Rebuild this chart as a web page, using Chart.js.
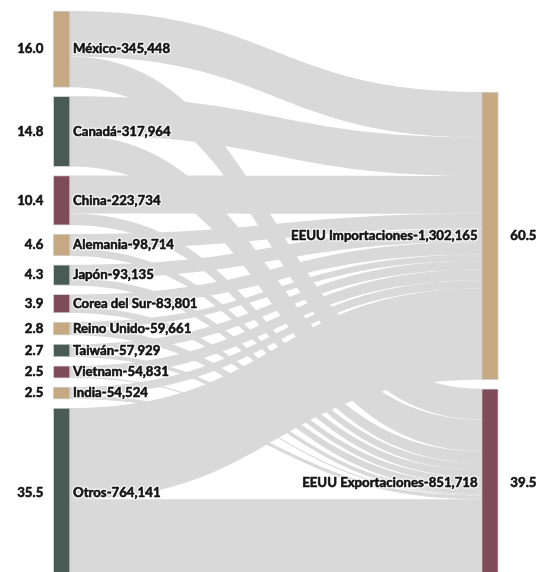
<!DOCTYPE html>
<html>
<head>
<meta charset="utf-8">
<script src="https://cdn.jsdelivr.net/npm/chart.js@4.4.1/dist/chart.umd.min.js"></script>
<style>
  html, body { margin: 0; padding: 0; background: #fff; overflow: hidden; }
  #wrap { width: 542px; height: 578px; }
</style>
</head>
<body>
<div id="wrap"><canvas id="sankey"></canvas></div>
<script>
// trade partners (left column) and their flows to/from the US
const countries = ["México", "Canadá", "China", "Alemania", "Japón", "Corea del Sur",
                   "Reino Unido", "Taiwán", "Vietnam", "India", "Otros"];
const countryTotals = [345448, 317964, 223734, 98714, 93135, 83801, 59661, 57929, 54831, 54524, 764141];
const importsFrom = [205900, 174400, 171200, 66800, 60500, 56900, 27500, 40200, 48400, 37900, 412465];
const exportsTo   = [139548, 143564, 52534, 31914, 32635, 26901, 32161, 17729, 6431, 16624, 351676];

// right column
const usNodes = ["EEUU Importaciones", "EEUU Exportaciones"];
const usTotals = [1302165, 851718];

const palette = ["#c4a982", "#4a5b56", "#7e4b5a"];
const usColors = ["#c4a982", "#7e4b5a"];
const linkColor = "#d9d9d9";
const nodeWidth = 16.7;
const gap = 40700;   // vertical padding between nodes, in data units
const font = "bold 13.2px Lato";

const sum = arr => arr.reduce((a, b) => a + b, 0);
const grand = sum(usTotals);

// --- layout (data units) ---
const leftNodes = [];
let cursor = 0;
countries.forEach((name, i) => {
  const v = importsFrom[i] + exportsTo[i];
  leftNodes.push({ name, total: countryTotals[i], y0: cursor, y1: cursor + v, color: palette[i % 3] });
  cursor += v + gap;
});
const leftSpan = cursor - gap;

const rightValues = [sum(importsFrom), sum(exportsTo)];
const rightNodes = [];
cursor = leftSpan - (sum(rightValues) + gap);   // bottom aligned with left column
usNodes.forEach((name, j) => {
  rightNodes.push({ name, total: usTotals[j], y0: cursor, y1: cursor + rightValues[j], color: usColors[j] });
  cursor += rightValues[j] + gap;
});

const links = [];
const tCursor = rightNodes.map(n => n.y0);
leftNodes.forEach((n, i) => {
  [importsFrom[i], exportsTo[i]].forEach((v, j) => {
    const sy = j === 0 ? n.y0 : n.y0 + importsFrom[i];
    links.push({ sy, ty: tCursor[j], value: v });
    tCursor[j] += v;
  });
});

const nodeData = leftNodes.map(n => ({ x: 0, y: [n.y0, n.y1] }))
  .concat(rightNodes.map(n => ({ x: 1, y: [n.y0, n.y1] })));
const nodeColors = leftNodes.concat(rightNodes).map(n => n.color);

const linkPlugin = {
  id: "links",
  beforeDatasetsDraw(chart) {
    const { ctx, scales: { x, y } } = chart;
    const x0 = x.getPixelForValue(0) + nodeWidth / 2;
    const x1 = x.getPixelForValue(1) - nodeWidth / 2;
    const xm = (x0 + x1) / 2;
    ctx.save();
    ctx.fillStyle = linkColor;
    links.forEach(l => {
      const a0 = y.getPixelForValue(l.sy), a1 = y.getPixelForValue(l.sy + l.value);
      const b0 = y.getPixelForValue(l.ty), b1 = y.getPixelForValue(l.ty + l.value);
      ctx.beginPath();
      ctx.moveTo(x0, a0);
      ctx.bezierCurveTo(xm, a0, xm, b0, x1, b0);
      ctx.lineTo(x1, b1);
      ctx.bezierCurveTo(xm, b1, xm, a1, x0, a1);
      ctx.closePath();
      ctx.fill();
    });
    ctx.restore();
  }
};

function boldText(ctx, text, px, py, halo) {
  if (halo) {
    ctx.strokeStyle = "rgba(255,255,255,0.8)";
    ctx.lineWidth = 3;
    ctx.strokeText(text, px, py);
  }
  ctx.fillText(text, px, py);
  ctx.strokeStyle = ctx.fillStyle;
  ctx.lineWidth = 0.6;
  ctx.strokeText(text, px, py);
}

const labelPlugin = {
  id: "labels",
  afterDatasetsDraw(chart) {
    const { ctx, scales: { x, y } } = chart;
    const lx = x.getPixelForValue(0), rx = x.getPixelForValue(1);
    ctx.save();
    ctx.font = font;
    ctx.textBaseline = "middle";
    ctx.lineJoin = "round";
    ctx.fillStyle = "#141414";
    leftNodes.forEach(n => {
      const my = y.getPixelForValue((n.y0 + n.y1) / 2);
      ctx.textAlign = "left";
      boldText(ctx, n.name + "-" + n.total.toLocaleString("en-US"), lx + nodeWidth / 2 + 3, my, true);
      ctx.textAlign = "right";
      boldText(ctx, (n.total / grand * 100).toFixed(1), lx - nodeWidth / 2 - 10, my, false);
    });
    rightNodes.forEach(n => {
      const my = y.getPixelForValue((n.y0 + n.y1) / 2);
      ctx.textAlign = "right";
      boldText(ctx, n.name + "-" + n.total.toLocaleString("en-US"), rx - nodeWidth / 2 - 4, my, true);
      ctx.textAlign = "left";
      boldText(ctx, (n.total / grand * 100).toFixed(1), rx + nodeWidth / 2 + 12, my, false);
    });
    ctx.restore();
  }
};

new Chart(document.getElementById("sankey"), {
  type: "bar",
  data: {
    datasets: [{
      data: nodeData,
      backgroundColor: nodeColors,
      borderColor: "rgba(0,0,0,0.18)",
      borderWidth: 1,
      borderSkipped: false,
      barThickness: nodeWidth,
      clip: false
    }]
  },
  options: {
    animation: false,
    responsive: true,
    maintainAspectRatio: false,
    events: [],
    layout: { padding: { left: 61.65, right: 52, top: 11, bottom: 1 } },
    plugins: { legend: { display: false }, tooltip: { enabled: false } },
    scales: {
      x: { type: "linear", min: 0, max: 1, offset: false, display: false },
      y: { type: "linear", min: 0, max: leftSpan, reverse: true, display: false }
    }
  },
  plugins: [linkPlugin, labelPlugin]
});
</script>
</body>
</html>
